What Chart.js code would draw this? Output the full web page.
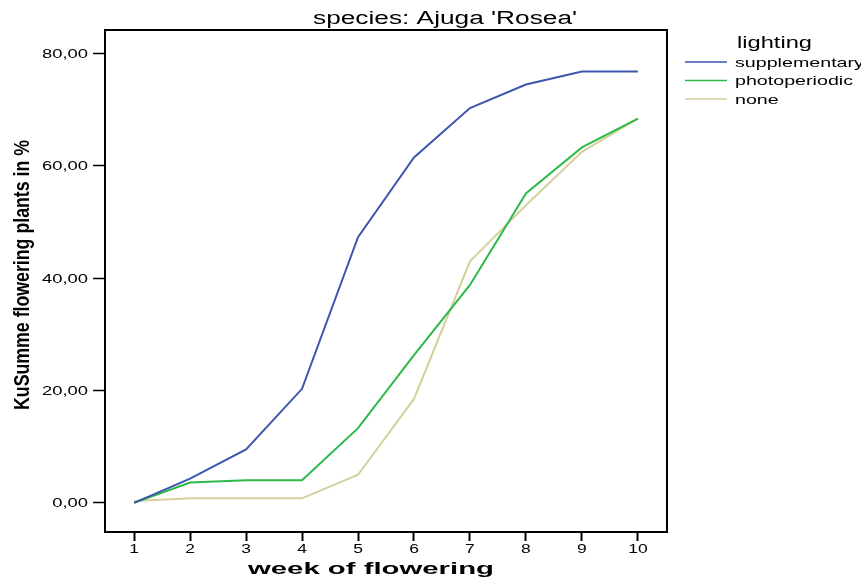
<!DOCTYPE html>
<html>
<head>
<meta charset="utf-8">
<script src="https://cdn.jsdelivr.net/npm/chart.js@4/dist/chart.umd.min.js"></script>
<style>
  html, body { margin: 0; padding: 0; background: #ffffff; }
  #wrap { width: 861px; height: 578px; position: relative; }
</style>
</head>
<body>
<div id="wrap"><canvas id="c" width="861" height="578"></canvas></div>
<script>
// ---- data ----
const weeks = [1, 2, 3, 4, 5, 6, 7, 8, 9, 10];
const supplementary = [0.0, 4.3, 9.5, 20.3, 47.3, 61.5, 70.3, 74.5, 76.8, 76.8];
const photoperiodic = [0.0, 3.6, 4.0, 4.0, 13.3, 26.3, 38.8, 55.1, 63.3, 68.4];
const none = [0.3, 0.8, 0.8, 0.8, 5.0, 18.5, 43.0, 53.0, 62.5, 68.4];
const seriesNames = ['supplementary', 'photoperiodic', 'none'];
const yTickValues = [0, 20, 40, 60, 80];
const titleText = "species: Ajuga 'Rosea'";
const legendTitle = 'lighting';
const xTitle = 'week of flowering';
const yTitle = 'KuSumme flowering plants in %';

const colors = ['#3d56ae', '#2db94a', '#d5cf9d'];
const seriesValues = [supplementary, photoperiodic, none];

const datasets = seriesValues.map((vals, i) => ({
  label: seriesNames[i],
  data: weeks.map((w, j) => ({ x: w, y: vals[j] })),
  borderColor: colors[i],
  backgroundColor: colors[i],
  borderWidth: 2,
  pointRadius: 0,
  tension: 0,
  fill: false
}));

const FONT = "'Liberation Sans', Arial, sans-serif";
const fmtY = v => v.toFixed(2).replace('.', ',');

// draw text stretched horizontally by factor sx
function stretchedText(ctx, text, x, y, sx, align) {
  ctx.save();
  ctx.translate(x, y);
  ctx.scale(sx, 1);
  ctx.textAlign = align;
  ctx.fillText(text, 0, 0);
  ctx.restore();
}

const boxPlugin = {
  id: 'boxPlugin',
  afterDatasetsDraw(chart) {
    const { ctx, chartArea: a } = chart;
    ctx.save();
    ctx.strokeStyle = '#000';
    ctx.lineWidth = 2;
    ctx.strokeRect(a.left, a.top, a.right - a.left, a.bottom - a.top);
    ctx.restore();
  }
};

const textPlugin = {
  id: 'textPlugin',
  afterDraw(chart) {
    const { ctx, chartArea: a } = chart;
    const xs = chart.scales.x, ys = chart.scales.y;
    ctx.save();
    ctx.fillStyle = '#000';

    // title
    ctx.font = '18px ' + FONT;
    ctx.textBaseline = 'alphabetic';
    let w = ctx.measureText(titleText).width;
    stretchedText(ctx, titleText, 445, 24, 264 / w, 'center');

    // y tick labels
    ctx.font = '12.5px ' + FONT;
    ctx.textBaseline = 'middle';
    const sxTick = 46 / ctx.measureText('80,00').width;
    ys.ticks.forEach(t => {
      stretchedText(ctx, fmtY(t.value), a.left - 17, ys.getPixelForValue(t.value) + 1, sxTick, 'right');
    });
    // x tick labels
    xs.ticks.forEach(t => {
      stretchedText(ctx, String(t.value), xs.getPixelForValue(t.value), 550, sxTick * 0.95, 'center');
    });

    // legend
    const lx = a.right + 18;
    ctx.font = '17px ' + FONT;
    ctx.textBaseline = 'alphabetic';
    w = ctx.measureText(legendTitle).width;
    stretchedText(ctx, legendTitle, 737, 48, 75 / w, 'left');
    ctx.font = '13.5px ' + FONT;
    ctx.textBaseline = 'middle';
    const sxLeg = 118 / ctx.measureText('photoperiodic').width;
    chart.data.datasets.forEach((ds, i) => {
      const y = 62 + i * 18.5;
      ctx.strokeStyle = ds.borderColor;
      ctx.lineWidth = 1.5;
      ctx.beginPath();
      ctx.moveTo(lx, y);
      ctx.lineTo(lx + 42, y);
      ctx.stroke();
      ctx.fillStyle = '#000';
      stretchedText(ctx, ds.label, 735, y + 1, sxLeg, 'left');
    });

    // x title
    ctx.font = 'bold 17px ' + FONT;
    ctx.textBaseline = 'alphabetic';
    w = ctx.measureText(xTitle).width;
    stretchedText(ctx, xTitle, 371, 574, 246 / w, 'center');

    // y title (condensed)
    ctx.translate(23, 275);
    ctx.rotate(-Math.PI / 2);
    ctx.font = "bold 22px 'Liberation Sans Narrow', 'Liberation Sans', Arial, sans-serif";
    ctx.textAlign = 'center';
    ctx.textBaseline = 'middle';
    w = ctx.measureText(yTitle).width;
    ctx.scale(270 / w, 1);
    ctx.fillText(yTitle, 0, 0);
    ctx.restore();
  }
};

new Chart(document.getElementById('c'), {
  type: 'line',
  data: { datasets },
  options: {
    responsive: false,
    animation: false,
    devicePixelRatio: 1,
    layout: { padding: { top: 30, right: 194, left: 0, bottom: 0 } },
    plugins: { legend: { display: false }, title: { display: false }, tooltip: { enabled: false } },
    scales: {
      x: {
        type: 'linear',
        min: 0.48,
        max: 10.52,
        afterBuildTicks(scale) { scale.ticks = weeks.map(v => ({ value: v })); },
        afterFit(scale) { scale.height = 46; },
        border: { display: false },
        grid: { display: true, drawOnChartArea: false, drawTicks: true, tickLength: 9, tickWidth: 2, tickColor: '#000', color: '#000' },
        ticks: { display: false }
      },
      y: {
        type: 'linear',
        min: -5.2,
        max: 84.2,
        afterBuildTicks(scale) { scale.ticks = yTickValues.map(v => ({ value: v })); },
        afterFit(scale) { scale.width = 105; },
        border: { display: false },
        grid: { display: true, drawOnChartArea: false, drawTicks: true, tickLength: 12, tickWidth: 1.5, tickColor: '#000', color: '#000' },
        ticks: { display: false }
      }
    }
  },
  plugins: [boxPlugin, textPlugin]
});
</script>
</body>
</html>
